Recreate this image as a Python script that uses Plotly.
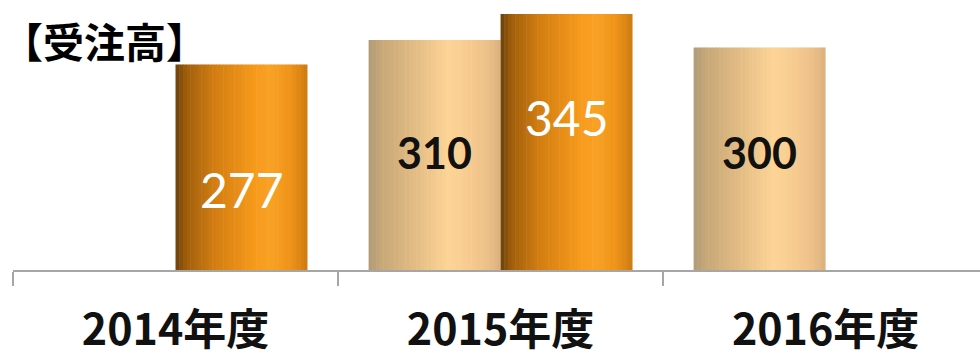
import plotly.graph_objects as go

# ---- data ----
categories = ["2014年度", "2015年度", "2016年度"]
plan_values = [None, 310, 300]      # tan bars (left of each group)
actual_values = [277, 345, None]    # orange bars (right of each group)
title_text = "【受注高】"

# label vertical placement as fraction of bar height (style)
plan_label_frac = [None, 0.513, 0.526]
actual_label_frac = [0.39, 0.594, None]

# ---- styles ----
BAR_W = 0.406          # bar width in category units
N_SLICES = 36
orange_stops = [(0.0, (0x6a, 0x42, 0x0c)), (0.08, (0xa0, 0x5e, 0x0c)), (0.3, (0xd4, 0x7e, 0x12)),
                (0.6, (0xf6, 0x9a, 0x1c)), (0.72, (0xf9, 0xa2, 0x24)), (0.88, (0xee, 0x92, 0x18)),
                (1.0, (0xcc, 0x7a, 0x12))]
tan_stops = [(0.0, (0xb0, 0x9a, 0x78)), (0.1, (0xc8, 0xa8, 0x78)), (0.35, (0xe2, 0xbc, 0x84)),
             (0.6, (0xfd, 0xd4, 0x96)), (0.75, (0xf8, 0xcc, 0x90)), (0.9, (0xec, 0xc0, 0x88)),
             (1.0, (0xdc, 0xb0, 0x7c))]


def interp(stops, t):
    for (p0, c0), (p1, c1) in zip(stops[:-1], stops[1:]):
        if p0 <= t <= p1:
            f = (t - p0) / (p1 - p0) if p1 > p0 else 0
            c = [round(a + (b - a) * f) for a, b in zip(c0, c1)]
            return "rgb(%d,%d,%d)" % tuple(c)
    c = stops[-1][1]
    return "rgb(%d,%d,%d)" % c


fig = go.Figure()

def add_cylinder(values, base_offset, stops, name):
    sw = BAR_W / N_SLICES
    for i in range(N_SLICES):
        t = (i + 0.5) / N_SLICES
        fig.add_trace(go.Bar(
            x=categories, y=values, name=name,
            offset=base_offset + i * sw,
            width=sw * (1.0 if i == N_SLICES - 1 else 1.15),
            marker=dict(color=interp(stops, t), line=dict(width=0)),
            showlegend=False,
            hoverinfo="x+y" if i == N_SLICES // 2 else "skip",
        ))

add_cylinder(plan_values, -BAR_W, tan_stops, "計画")
add_cylinder(actual_values, 0.0, orange_stops, "実績")

annotations = []
for j, v in enumerate(plan_values):
    if v is not None:
        annotations.append(dict(x=j - BAR_W / 2, y=v * plan_label_frac[j], xref="x", yref="y",
                                text="<b>%d</b>" % v, showarrow=False,
                                font=dict(family="Lato", size=43, color="#111111")))
for j, v in enumerate(actual_values):
    if v is not None:
        annotations.append(dict(x=j + BAR_W / 2, y=v * actual_label_frac[j], xref="x", yref="y",
                                text="%d" % v, showarrow=False,
                                font=dict(family="Lato", size=48, color="#ffffff")))

annotations.append(dict(x=0, y=1, xref="paper", yref="paper", xanchor="left", yanchor="top",
                        xshift=-13, yshift=2,
                        text="<b>%s</b>" % title_text, showarrow=False,
                        font=dict(family="Noto Sans CJK JP", size=41, color="#000000")))

fig.update_layout(
    width=980, height=357,
    margin=dict(l=13, r=0, t=10, b=87),
    paper_bgcolor="white", plot_bgcolor="white",
    barmode="overlay",
    annotations=annotations,
    xaxis=dict(
        type="category", range=[-0.5, 2.475],
        showline=True, linecolor="#a6a6a6", linewidth=2,
        ticks="outside", tickson="boundaries", ticklen=14, tickwidth=2, tickcolor="#a6a6a6",
        showgrid=False, zeroline=False,
        tickfont=dict(family="Noto Sans CJK JP", size=43, color="#111111", weight=600),
        ticklabelstandoff=21, automargin=False,
    ),
    yaxis=dict(range=[0, 350.4], visible=False, showgrid=False, zeroline=False),
)

fig.write_html("out.html")
